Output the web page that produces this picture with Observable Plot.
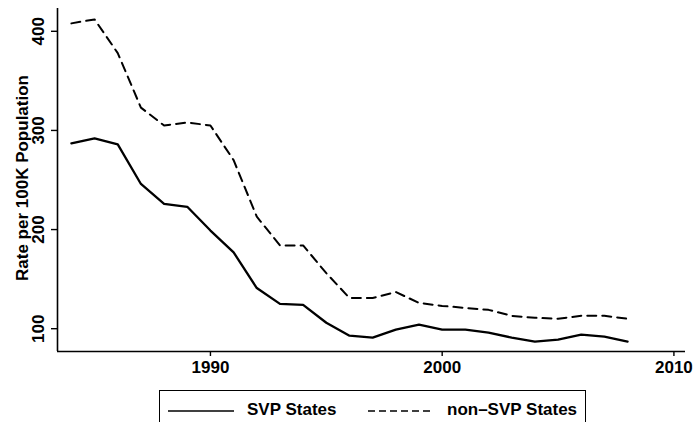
<!DOCTYPE html>
<html>
<head>
<meta charset="utf-8">
<script src="https://cdn.jsdelivr.net/npm/d3@7"></script>
<script src="https://cdn.jsdelivr.net/npm/@observablehq/plot@0.6"></script>
<style>
  html, body { margin: 0; padding: 0; background: #fff; }
  body { width: 695px; height: 422px; overflow: hidden; position: relative; font-family: "Liberation Sans", Arial, sans-serif; }
  #legend { position: absolute; left: 159px; top: 390px; width: 427px; height: 60px; border: 1.3px solid #000; box-sizing: border-box; }
  #legend .item { position: absolute; top: 9px; font-size: 17px; font-weight: bold; color: #000; line-height: 20px; white-space: nowrap; }
  #legend svg { position: absolute; top: 18px; }
</style>
</head>
<body>
<div id="chart"></div>
<div id="legend"></div>
<script>
const years = [1984,1985,1986,1987,1988,1989,1990,1991,1992,1993,1994,1995,1996,1997,1998,1999,2000,2001,2002,2003,2004,2005,2006,2007,2008];
const svpRates = [287,292,286,246,226,223,199,177,141,125,124,106,93,91,99,104,99,99,96,91,87,89,94,92,87];
const nonSvpRates = [408,412,378,323,305,308,305,270,213,184,184,156,131,131,137,126,123,121,119,113,111,110,113,113,110];
const seriesNames = ["SVP States", "non\u2013SVP States"];
const xTicks = [1990, 2000, 2010];
const yTicks = [100, 200, 300, 400];

const rows = years.flatMap((y, i) => [
  {year: y, rate: svpRates[i], series: seriesNames[0]},
  {year: y, rate: nonSvpRates[i], series: seriesNames[1]}
]);

const xDomain = [1983.4, 2010.5];
const yDomain = [77, 423];

const chart = Plot.plot({
  width: 695,
  height: 386,
  marginLeft: 57,
  marginRight: 10,
  marginTop: 8,
  marginBottom: 35,
  style: {fontFamily: "'Liberation Sans', Arial, sans-serif", background: "#fff", color: "#000"},
  x: {domain: xDomain},
  y: {domain: yDomain},
  marks: [
    Plot.ruleX([xDomain[0]], {stroke: "#000", strokeWidth: 1.6}),
    Plot.ruleY([yDomain[0]], {stroke: "#000", strokeWidth: 1.6}),
    Plot.axisX({ticks: xTicks, tickSize: 5, tickPadding: 4, tickFormat: d => String(d), fontSize: 17, fontWeight: "bold", label: null, strokeWidth: 1.4}),
    Plot.axisY({ticks: yTicks, tickSize: 6, tickPadding: 8, tickRotate: -90, fontSize: 17, fontWeight: "bold", label: null, strokeWidth: 1.4}),
    Plot.line(rows.filter(d => d.series === seriesNames[0]), {x: "year", y: "rate", stroke: "#000", strokeWidth: 2.3}),
    Plot.line(rows.filter(d => d.series === seriesNames[1]), {x: "year", y: "rate", stroke: "#000", strokeWidth: 2, strokeDasharray: "9,6"})
  ]
});
document.getElementById("chart").appendChild(chart);

// y axis title
const svg = d3.select(chart);
svg.append("text")
  .attr("transform", "translate(28,178) rotate(-90)")
  .attr("text-anchor", "middle")
  .attr("font-size", 17)
  .attr("font-weight", "bold")
  .attr("fill", "#000")
  .text("Rate per 100K Population");

// legend
const legend = document.getElementById("legend");
const items = [
  {name: seriesNames[0], dash: null, lineX: 8, textX: 87},
  {name: seriesNames[1], dash: "7,4", lineX: 208, textX: 287}
];
for (const it of items) {
  const s = d3.create("svg").attr("width", 66).attr("height", 4).style("left", it.lineX + "px");
  s.append("line").attr("x1", 0).attr("x2", 66).attr("y1", 2).attr("y2", 2)
    .attr("stroke", "#000").attr("stroke-width", 1.4).attr("stroke-dasharray", it.dash);
  legend.appendChild(s.node());
  const t = document.createElement("div");
  t.className = "item";
  t.style.left = it.textX + "px";
  t.textContent = it.name;
  legend.appendChild(t);
}
</script>
</body>
</html>
